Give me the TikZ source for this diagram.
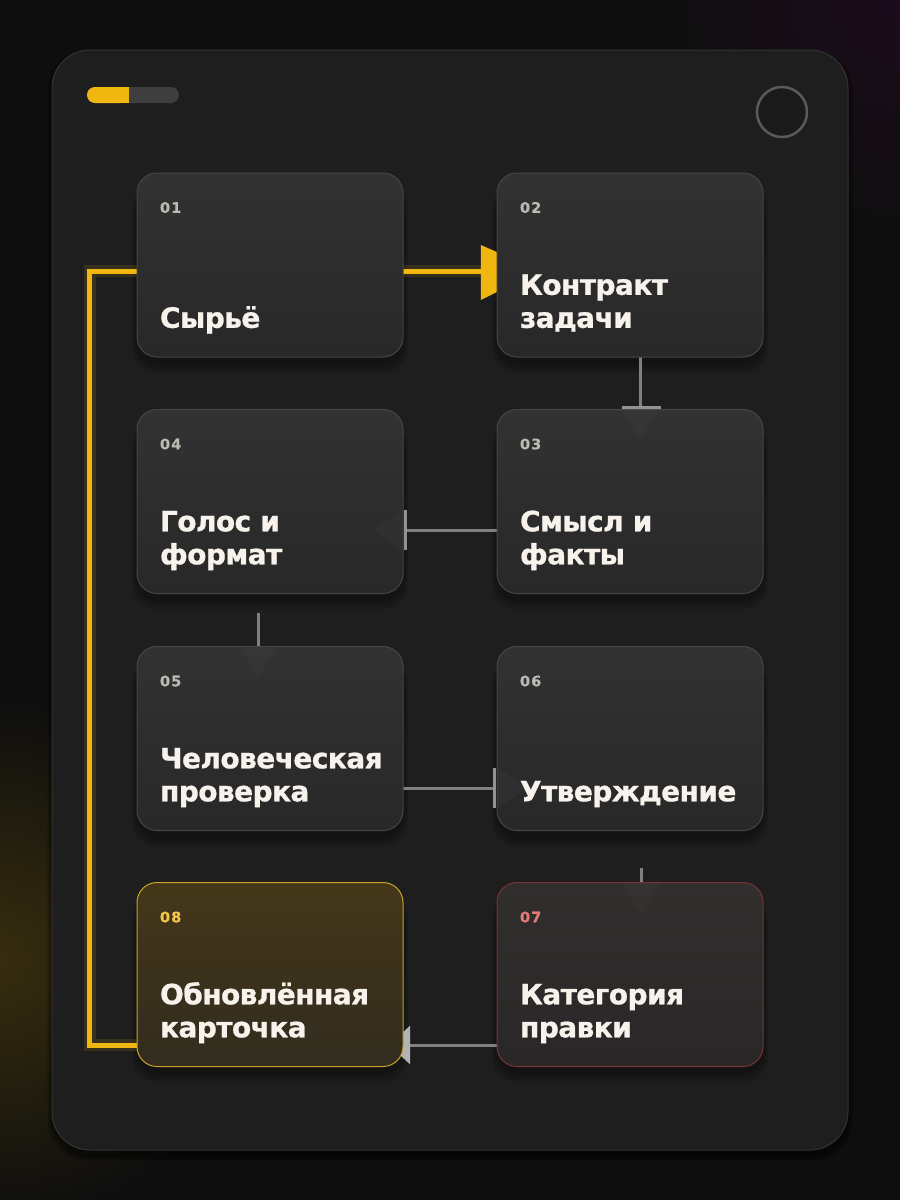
\documentclass[tikz,border=0pt]{standalone}
\usepackage{fontspec}
\setmainfont{DejaVu Sans}
\newfontfamily\numfont[LetterSpace=8,FakeBold=0.5]{DejaVu Sans Bold}
\newfontfamily\ttlfont[FakeBold=0.9,LetterSpace=-2]{DejaVu Sans Bold}
\definecolor{bg}{HTML}{0E0E0E}
\definecolor{card}{HTML}{1E1E1E}
\definecolor{cardedge}{HTML}{333333}
\definecolor{boxtop}{HTML}{323232}
\definecolor{boxbot}{HTML}{282828}
\definecolor{boxedge}{HTML}{464646}
\definecolor{gold}{HTML}{EFB70F}
\definecolor{conn}{HTML}{808080}
\definecolor{numc}{HTML}{BDBAB4}
\definecolor{titlec}{HTML}{F7F3EC}
\definecolor{goldtop}{HTML}{443719}
\definecolor{goldbot}{HTML}{322C1F}
\definecolor{goldedge}{HTML}{C9A227}
\definecolor{goldnum}{HTML}{F3C64A}
\definecolor{redtop}{HTML}{312E2E}
\definecolor{redbot}{HTML}{292727}
\definecolor{rededge}{HTML}{7A3434}
\definecolor{rednum}{HTML}{E57A78}
\definecolor{track}{HTML}{3E3E3E}
\definecolor{btnfill}{HTML}{1A1A1A}
\definecolor{btnring}{HTML}{5A5A5A}
\tikzset{
  x=1pt,y=-1pt,
  stepbox/.style={rounded corners=20pt, minimum width=266pt, minimum height=184pt,
    draw=boxedge, line width=1pt, top color=boxtop, bottom color=boxbot, inner sep=0pt},
  goldbox/.style={stepbox, draw=goldedge, top color=goldtop, bottom color=goldbot},
  redbox/.style={stepbox, draw=rededge, top color=redtop, bottom color=redbot},
  anchorbox/.style={minimum width=266pt, minimum height=184pt, inner sep=0pt},
  numlbl/.style={anchor=base west, text=numc, font=\numfont\fontsize{14.5}{16}\selectfont, inner sep=0pt},
  ttl/.style={anchor=base west, text=titlec, align=left, font=\ttlfont\fontsize{28}{33}\selectfont, inner sep=0pt},
  connline/.style={draw=conn, line width=3pt},
  capbar/.style={draw=conn!85!white, line width=3pt},
  hidhead/.style={fill=white, opacity=0.025},
  goldline/.style={draw=gold, line width=5pt},
  goldglow/.style={draw=gold, line width=12pt, opacity=0.12},
}
\begin{document}
\begin{tikzpicture}
\useasboundingbox (0,0) rectangle (900,1200);
\fill[bg] (0,0) rectangle (900,1200);
\begin{scope}
\clip (0,0) rectangle (900,1200);
\shade[inner color=gold!18!bg, outer color=bg] (0,960) circle (260);
\shade[inner color=violet!12!bg, outer color=bg] (900,0) circle (240);
\end{scope}
% card
\foreach \i in {1,...,5}{
  \fill[black, opacity=0.1, rounded corners=40pt] (52-\i,50-\i+6) rectangle (848+\i,1150+\i+6);
}
\draw[cardedge, fill=card, rounded corners=38pt, line width=1pt] (52,50) rectangle (848,1150);
% progress bar
\fill[track, rounded corners=8pt] (87,87) rectangle (179,103);
\fill[gold, rounded corners=8pt] (87,87) rectangle (129,103);
\fill[gold] (120,87) rectangle (129,103);
% circle button
\fill[btnfill] (782,112) circle (25);
\draw[btnring, line width=2.5pt] (782,112) circle (25);
% soft shadows
\foreach \cx/\cy in {270/265,630/265,270/501.5,630/501.5,270/738.5,630/738.5,270/974.5,630/974.5}{
  \foreach \i in {1,...,5}{
    \fill[black, opacity=0.07, rounded corners=24pt] (\cx-133-\i,\cy-84-\i+8) rectangle (\cx+133+\i,\cy+92+2*\i+6);
  }
}
\path (270,265) coordinate (c1) (630,265) coordinate (c2) (630,501.5) coordinate (c3)
      (270,501.5) coordinate (c4) (270,738.5) coordinate (c5) (630,738.5) coordinate (c6)
      (630,974.5) coordinate (c7) (270,974.5) coordinate (c8);
\node[anchorbox] (b1) at (c1) {};
\node[anchorbox] (b2) at (c2) {};
\node[anchorbox] (b3) at (c3) {};
\node[anchorbox] (b4) at (c4) {};
\node[anchorbox] (b5) at (c5) {};
\node[anchorbox] (b6) at (c6) {};
\node[anchorbox] (b7) at (c7) {};
\node[anchorbox] (b8) at (c8) {};
% feedback loop (gold)
\coordinate (fbl) at ([xshift=-47pt,yshift=-70.5pt]b8.west);
\draw[goldglow] ([yshift=-70.5pt]b8.west) -- (fbl) |- ([yshift=-6pt]b1.west);
\draw[goldline] ([yshift=-70.5pt]b8.west) -- (fbl) |- ([yshift=-6pt]b1.west);
% 01 -> 02
\coordinate (a12) at ([xshift=-15pt,yshift=-6pt]b2.west);
\draw[goldglow] ([yshift=-6pt]b1.east) -- (a12);
\draw[goldline] ([yshift=-6pt]b1.east) -- (a12);
\fill[gold] ([xshift=-1pt,yshift=26pt]a12) -- ([xshift=15pt,yshift=19pt]a12) -- ([xshift=15pt,yshift=-21pt]a12) -- ([xshift=-1pt,yshift=-29pt]a12) -- cycle;
% 02 -> 03
\draw[connline] ([xshift=10pt]b2.south) -- ([xshift=10pt,yshift=2pt]b3.north);
\draw[capbar] ([xshift=-8pt,yshift=2pt]b3.north) -- ([xshift=31pt,yshift=2pt]b3.north);
% 03 -> 04
\draw[connline] ([yshift=-28.5pt]b3.west) -- ([xshift=2pt,yshift=-28.5pt]b4.east);
\draw[capbar] ([xshift=2pt,yshift=-8.5pt]b4.east) -- ([xshift=2pt,yshift=-48.5pt]b4.east);
% 04 -> 05
\draw[connline] ([xshift=-12pt,yshift=-19pt]b4.south) -- ([xshift=-12pt]b5.north);
% 05 -> 06
\draw[connline] ([yshift=-49.5pt]b5.east) -- ([xshift=-2pt,yshift=-49.5pt]b6.west);
\draw[capbar] ([xshift=-2pt,yshift=-29.5pt]b6.west) -- ([xshift=-2pt,yshift=-69.5pt]b6.west);
% 06 -> 07
\draw[connline] ([xshift=11pt,yshift=-37pt]b6.south) -- ([xshift=11pt]b7.north);
% 07 -> 08
\draw[connline] ([yshift=-70.5pt]b7.west) -- ([xshift=6pt,yshift=-70.5pt]b8.east);
\fill[conn!60!white] ([xshift=7pt,yshift=-51pt]b8.east) -- ([xshift=7pt,yshift=-90pt]b8.east) -- ([xshift=-14pt,yshift=-70.5pt]b8.east) -- cycle;
% boxes
\node[stepbox] at (c1) {};
\node[stepbox] at (c2) {};
\node[stepbox] at (c3) {};
\node[stepbox] at (c4) {};
\node[stepbox] at (c5) {};
\node[stepbox] at (c6) {};
\node[redbox] at (c7) {};
\node[goldbox] at (c8) {};
% faint arrowheads seen through the glass boxes
\fill[hidhead] ([xshift=-8pt,yshift=-1pt]b3.north) -- ([xshift=28pt,yshift=-1pt]b3.north) -- ([xshift=10pt,yshift=-30pt]b3.north) -- cycle;
\fill[hidhead] ([xshift=-1pt,yshift=-8.5pt]b4.east) -- ([xshift=-1pt,yshift=-48.5pt]b4.east) -- ([xshift=-30pt,yshift=-28.5pt]b4.east) -- cycle;
\fill[hidhead] ([xshift=-30pt,yshift=-1pt]b5.north) -- ([xshift=6pt,yshift=-1pt]b5.north) -- ([xshift=-12pt,yshift=-32pt]b5.north) -- cycle;
\fill[hidhead] ([xshift=1pt,yshift=-29.5pt]b6.west) -- ([xshift=1pt,yshift=-69.5pt]b6.west) -- ([xshift=30pt,yshift=-49.5pt]b6.west) -- cycle;
\fill[hidhead] ([xshift=-7pt,yshift=-1pt]b7.north) -- ([xshift=29pt,yshift=-1pt]b7.north) -- ([xshift=11pt,yshift=-32pt]b7.north) -- cycle;
% labels
\node[numlbl] (n1) at ([xshift=23pt,yshift=-40pt]b1.north west) {01};
\node[numlbl] (n2) at ([xshift=23pt,yshift=-40pt]b2.north west) {02};
\node[numlbl] (n3) at ([xshift=23pt,yshift=-40pt]b3.north west) {03};
\node[numlbl] (n4) at ([xshift=23pt,yshift=-40pt]b4.north west) {04};
\node[numlbl] (n5) at ([xshift=23pt,yshift=-40pt]b5.north west) {05};
\node[numlbl] (n6) at ([xshift=23pt,yshift=-40pt]b6.north west) {06};
\node[numlbl, text=rednum] (n7) at ([xshift=23pt,yshift=-40pt]b7.north west) {07};
\node[numlbl, text=goldnum] (n8) at ([xshift=23pt,yshift=-40pt]b8.north west) {08};
\node[ttl] (t1) at ([xshift=23pt,yshift=-155pt]b1.north west) {Сырьё};
\node[ttl] (t2) at ([xshift=23pt,yshift=-155pt]b2.north west) {Контракт\\задачи};
\node[ttl] (t3) at ([xshift=23pt,yshift=-155pt]b3.north west) {Смысл и\\факты};
\node[ttl] (t4) at ([xshift=23pt,yshift=-155pt]b4.north west) {Голос и\\формат};
\node[ttl] (t5) at ([xshift=23pt,yshift=-155pt]b5.north west) {Человеческая\\проверка};
\node[ttl] (t6) at ([xshift=23pt,yshift=-155pt]b6.north west) {Утверждение};
\node[ttl] (t7) at ([xshift=23pt,yshift=-155pt]b7.north west) {Категория\\правки};
\node[ttl] (t8) at ([xshift=23pt,yshift=-155pt]b8.north west) {Обновлённая\\карточка};
\end{tikzpicture}
\end{document}
